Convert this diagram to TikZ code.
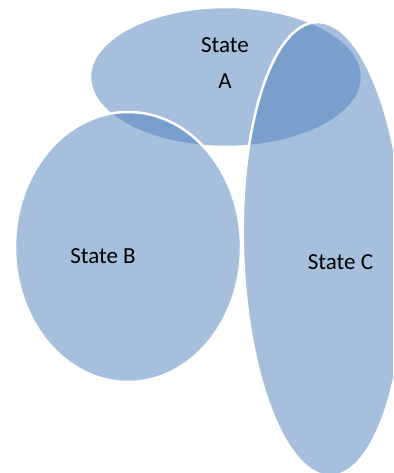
\documentclass[tikz,border=0pt]{standalone}
\usepackage{fontspec}
\setmainfont{Carlito}
\definecolor{accentblue}{RGB}{79,129,189}
\begin{document}
\begin{tikzpicture}[x=1pt,y=-1pt,
  blob/.style={fill=accentblue,fill opacity=0.5,draw=white,line width=2.5pt},
  lbl/.style={text=black,inner sep=0pt,align=center,font=\fontsize{23}{35.5}\selectfont}]
\useasboundingbox (0,0) rectangle (393,473);
\clip (0,0) rectangle (393,473);
\fill[white] (0,0) rectangle (393,473);
% State A
\path[blob] (226,77) ellipse [x radius=136, y radius=70];
% State B
\path[blob] (128,247) ellipse [x radius=113, y radius=135];
% State C
\path[blob, rotate around={1.8:(324,249)}] (324,249) ellipse [x radius=81, y radius=227];
\node[lbl] (la) at (225,63.2) {State\\A};
\node[lbl] (lb) at (103,256) {State B};
\node[lbl] (lc) at (340.5,262.5) {State C};
\end{tikzpicture}
\end{document}
